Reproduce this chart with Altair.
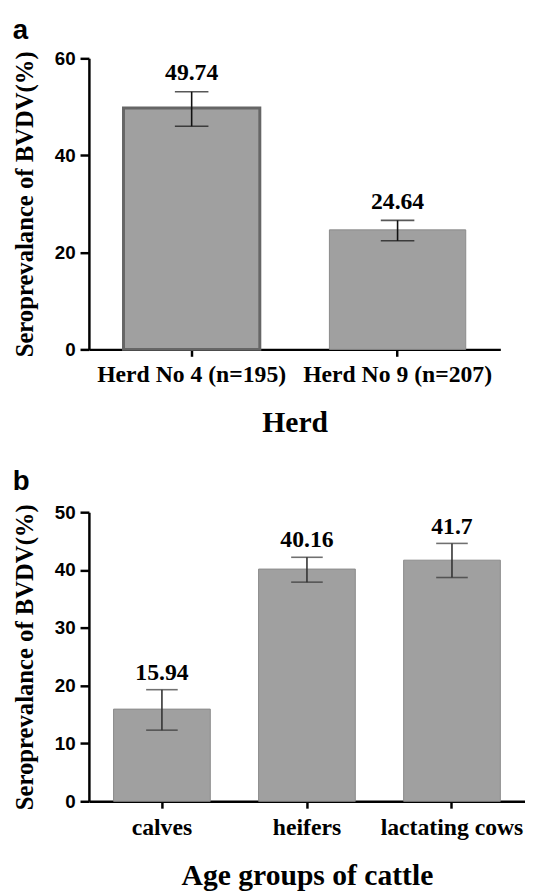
import altair as alt
import pandas as pd

# ---- data ----
herds = ["Herd No 4 (n=195)", "Herd No 9 (n=207)"]
herd_vals = [49.74, 24.64]
herd_lo = [46.0, 22.4]
herd_hi = [53.1, 26.6]

ages = ["calves", "heifers", "lactating cows"]
age_vals = [15.94, 40.16, 41.7]
age_lo = [12.3, 37.9, 38.7]
age_hi = [19.3, 42.2, 44.6]

df_a = pd.DataFrame({"cat": herds, "val": herd_vals, "lo": herd_lo, "hi": herd_hi})
df_b = pd.DataFrame({"cat": ages, "val": age_vals, "lo": age_lo, "hi": age_hi})

SERIF = "Liberation Serif"
SANS = "Liberation Sans"
BAR = "#a0a0a0"


def panel(df, cats, ymax, ystep, title_x, label, width, height, err_color, dy,
          first_thick, cap, pad_inner, pad_outer, xlab_pad, title_dy):
    xscale = alt.Scale(domain=cats, paddingInner=pad_inner, paddingOuter=pad_outer)
    yscale = alt.Scale(domain=[0, ymax], nice=False)
    x = alt.X(
        "cat:N", scale=xscale, sort=cats,
        axis=alt.Axis(
            title=title_x, labelAngle=0, labelFont=SERIF, labelFontSize=24,
            labelFontWeight="bold", labelColor="black", labelPadding=xlab_pad,
            labelLimit=0,
            titleFont=SERIF, titleFontSize=30, titleFontWeight="bold",
            titleColor="black", titlePadding=21, tickSize=7, tickWidth=2.5,
            tickColor="black", domainColor="black", domainWidth=2.5,
        ),
    )
    y = alt.Y(
        "val:Q", scale=yscale,
        axis=alt.Axis(
            title="Seroprevalance of BVDV(%)", values=list(range(0, ymax + 1, ystep)),
            grid=False, labelFont=SANS, labelFontSize=19, labelFontWeight="bold",
            labelColor="black", labelPadding=5, tickSize=9, tickWidth=2.5,
            tickColor="black", domainColor="black", domainWidth=2.5,
            titleFont=SERIF, titleFontSize=25, titleFontWeight="bold",
            titleColor="black", titlePadding=17,
        ),
    )
    base = alt.Chart(df)
    if first_thick:
        stroke = alt.condition(alt.datum.cat == cats[0], alt.value("#666666"), alt.value("#8a8a8a"))
        sw = alt.condition(alt.datum.cat == cats[0], alt.value(3), alt.value(1))
    else:
        stroke = alt.value("#8a8a8a")
        sw = alt.value(1)
    bars = base.mark_bar(color=BAR).encode(x=x, y=y, stroke=stroke, strokeWidth=sw)
    xs = alt.X("cat:N", scale=xscale, sort=cats)
    rule = base.mark_rule(color=err_color, strokeWidth=1.6).encode(
        x=xs, y=alt.Y("lo:Q", scale=yscale), y2="hi:Q",
    )
    cap_hi = base.mark_tick(color=err_color, thickness=1.6, size=cap, orient="horizontal").encode(
        x=xs, y=alt.Y("hi:Q", scale=yscale),
    )
    cap_lo = base.mark_tick(color=err_color, thickness=1.6, size=cap, orient="horizontal").encode(
        x=xs, y=alt.Y("lo:Q", scale=yscale),
    )
    txt = base.mark_text(
        font=SERIF, fontSize=24, fontWeight="bold", color="black",
        baseline="alphabetic", dy=dy,
    ).encode(
        x=xs, y=alt.Y("hi:Q", scale=yscale), text=alt.Text("val:Q"),
    )
    return alt.layer(bars, rule, cap_hi, cap_lo, txt).properties(
        width=width, height=height,
        title=alt.TitleParams(
            text=label, anchor="start", frame="bounds", font=SANS,
            fontSize=28, fontWeight="bold", color="black", offset=3, dy=title_dy,
        ),
    )


pa = panel(df_a, herds, 60, 20, "Herd", "a", 417, 295, "#111111", -12, True, 34,
           0.338, 0.168, 7, -2)
pb = panel(df_b, ages, 50, 10, "Age groups of cattle", "b", 442, 293, "#333333", -10, False, 32,
           0.333, 0.17, 8, -4)

chart = alt.vconcat(pa, pb, spacing=32).properties(
    padding={"left": 4, "top": 3, "right": 0, "bottom": 0}
).configure(background="white").configure_view(stroke=None)

chart.save("out.html", embed_options={"renderer": "svg", "actions": False})
